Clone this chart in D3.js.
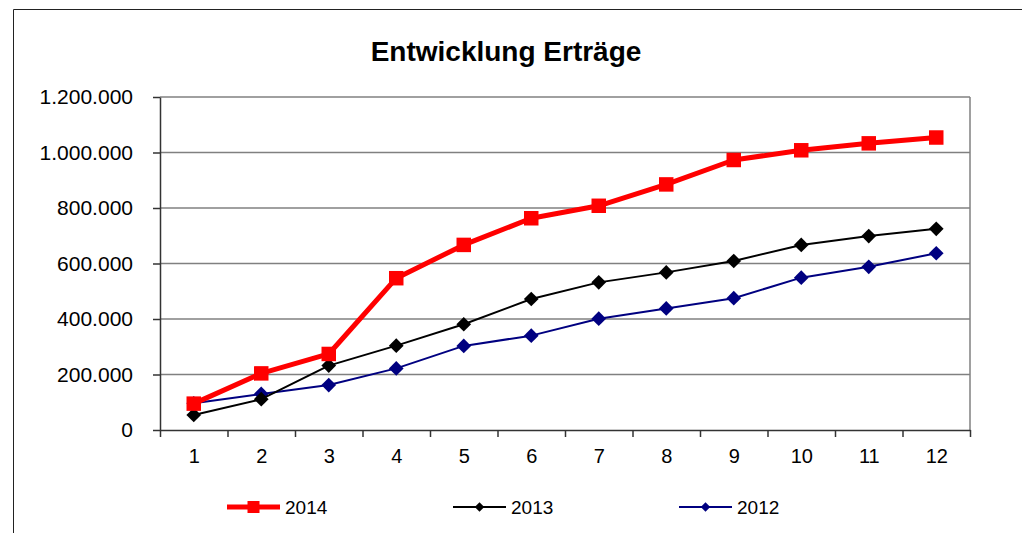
<!DOCTYPE html>
<html>
<head>
<meta charset="utf-8">
<script src="https://cdn.jsdelivr.net/npm/d3@7"></script>
<style>
    body { margin: 0; background: #fff; }
    svg { display: block; font-family: "Liberation Sans", Arial, sans-serif; }
</style>
</head>
<body>
<div id="chart"></div>
<script>
// months 1..12, cumulative revenue per year
const months = [1, 2, 3, 4, 5, 6, 7, 8, 9, 10, 11, 12];
const values2014 = [95000, 204000, 274000, 547000, 667000, 763000, 808000, 885000, 973000, 1008000, 1033000, 1054000];
const values2013 = [54000, 111000, 232000, 304000, 381000, 472000, 532000, 568000, 609000, 667000, 699000, 725000];
const values2012 = [96000, 130000, 162000, 222000, 303000, 340000, 401000, 438000, 475000, 549000, 588000, 637000];
const yTicks = [0, 200000, 400000, 600000, 800000, 1000000, 1200000];

const series = [
    {name: "2014", values: values2014, color: "#ff0000", width: 5, shape: "square", size: 210, legendSize: 144, legendX: 227},
    {name: "2013", values: values2013, color: "#000000", width: 2, shape: "diamond", size: 108, legendSize: 45, legendX: 453},
    {name: "2012", values: values2012, color: "#000080", width: 2, shape: "diamond", size: 108, legendSize: 45, legendX: 679}
];

const width = 1022, height = 533;
const plot = {left: 160, right: 970, top: 97, bottom: 430};

const de = d3.formatLocale({decimal: ",", thousands: ".", grouping: [3], currency: ["", " €"]});
const fmt = de.format(",d");

const svg = d3.select("#chart").append("svg")
    .attr("width", width)
    .attr("height", height);

// outer frame (only top and left edges visible)
svg.append("path")
    .attr("d", "M13.5," + height + "V9.5H" + width)
    .attr("fill", "none")
    .attr("stroke", "#222")
    .attr("stroke-width", 1);

svg.append("text")
    .attr("x", 506)
    .attr("y", 61)
    .attr("text-anchor", "middle")
    .style("font-size", "28px")
    .style("font-weight", "bold")
    .text("Entwicklung Erträge");

let x = d3.scaleLinear().domain([0.5, 12.5]).range([plot.left, plot.right]);
let y = d3.scaleLinear().domain([0, 1200000]).range([plot.bottom, plot.top]);

// gridlines
svg.append("g")
    .selectAll("line")
    .data(yTicks.filter(d => d > 0))
    .enter().append("line")
    .attr("x1", plot.left)
    .attr("x2", plot.right)
    .attr("y1", d => y(d))
    .attr("y2", d => y(d))
    .attr("stroke", "#808080")
    .attr("stroke-width", 1.5);

// right border of plot area
svg.append("line")
    .attr("x1", plot.right).attr("x2", plot.right)
    .attr("y1", plot.top).attr("y2", plot.bottom)
    .attr("stroke", "#808080")
    .attr("stroke-width", 1.5);

// y axis
let yAxis = svg.append("g")
    .attr("transform", "translate(" + plot.left + ",0)")
    .call(d3.axisLeft(y).tickValues(yTicks).tickFormat(fmt).tickSize(7).tickSizeOuter(0).tickPadding(20));

// x axis: tick marks between categories
let xAxis = svg.append("g")
    .attr("transform", "translate(0," + plot.bottom + ")")
    .call(d3.axisBottom(x).tickValues(d3.range(0.5, 13, 1)).tickFormat("").tickSize(7).tickSizeOuter(0));

let xLabels = svg.append("g")
    .attr("transform", "translate(0," + plot.bottom + ")")
    .call(d3.axisBottom(x).tickValues(months).tickSize(0).tickPadding(19))
    .call(g => g.select(".domain").remove());

svg.selectAll(".tick line, .domain")
    .attr("stroke", "#333")
    .attr("stroke-width", 1.5);
svg.selectAll(".tick text")
    .attr("fill", "#000")
    .style("font-size", "20px")
    .style("font-family", "'Liberation Sans', Arial, sans-serif");
yAxis.selectAll(".tick text").style("font-size", "21px");

const symbolFor = (s, size) => d3.symbol().type(d3.symbolSquare).size(size)();
const rotFor = s => s.shape === "diamond" ? " rotate(45)" : "";

let line = d3.line()
    .x((d, i) => x(months[i]))
    .y(d => y(d));

// draw oldest first so 2014 lies on top
series.slice().reverse().forEach(s => {
    let g = svg.append("g").attr("class", "series");
    g.append("path")
        .datum(s.values)
        .attr("d", line)
        .attr("fill", "none")
        .attr("stroke", s.color)
        .attr("stroke-width", s.width)
        .attr("stroke-linejoin", "round");
    g.selectAll("path.marker")
        .data(s.values)
        .enter().append("path")
        .attr("class", "marker")
        .attr("d", symbolFor(s, s.size))
        .attr("transform", (d, i) => "translate(" + x(months[i]) + "," + y(d) + ")" + rotFor(s))
        .attr("fill", s.color);
});

// legend
const legendY = 507;
series.forEach(s => {
    let g = svg.append("g").attr("transform", "translate(" + s.legendX + "," + legendY + ")");
    g.append("line")
        .attr("x1", 0).attr("x2", 53)
        .attr("stroke", s.color)
        .attr("stroke-width", s.width === 5 ? 5 : 2);
    g.append("path")
        .attr("d", symbolFor(s, s.legendSize))
        .attr("transform", "translate(26.5,0)" + rotFor(s))
        .attr("fill", s.color);
    g.append("text")
        .attr("x", 58)
        .attr("dy", "0.35em")
        .style("font-size", "19px")
        .text(s.name);
});
</script>
</body>
</html>
